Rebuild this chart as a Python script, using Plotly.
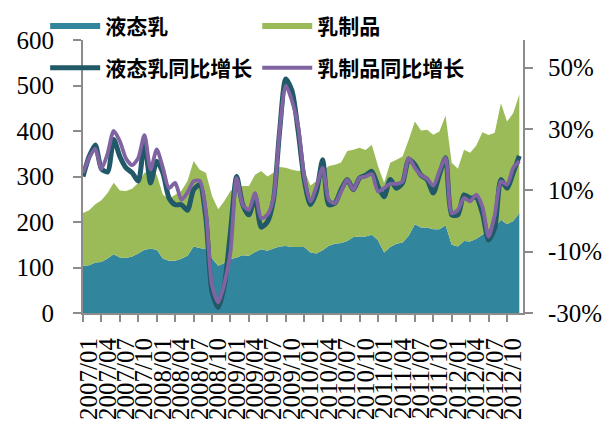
import plotly.graph_objects as go

# ---- data ----
months = [f"{y}/{m:02d}" for y in range(2007, 2013) for m in range(1, 13)]
tick_labels = months[::3]

liquid_milk = [104, 105, 111, 112, 120, 129, 122, 121, 124, 131, 139, 141,
               139, 120, 115, 115, 119, 126, 146, 143, 140, 120, 104, 110,
               118, 122, 127, 126, 134, 140, 137, 142, 146, 147, 145, 145,
               145, 133, 131, 138, 148, 152, 154, 158, 167, 168, 168, 172,
               160, 133, 145, 152, 155, 170, 195, 188, 188, 184, 184, 193,
               150, 146, 158, 157, 163, 172, 184, 188, 205, 195, 202, 220]

dairy_products = [116, 121, 128, 136, 144, 157, 147, 147, 149, 155, 169, 171,
                  165, 140, 136, 145, 149, 164, 188, 172, 168, 137, 124, 136,
                  150, 153, 152, 153, 170, 172, 163, 166, 175, 172, 170, 167,
                  170, 147, 159, 173, 175, 174, 177, 198, 192, 195, 190, 198,
                  163, 153, 185, 185, 189, 211, 226, 213, 215, 208, 215, 241,
                  180, 171, 201, 195, 205, 225, 207, 208, 256, 226, 237, 260]

liquid_yoy = [14.5, 21.0, 24.8, 17.0, 16.0, 26.6, 21.0, 17.3, 15.7, 13.0, 26.0, 12.4,
              19.5, 15.7, 7.5, 5.3, 5.3, 3.5, 10.2, 11.8, 0.9, -23.2, -28.2, -21.0,
              -3.5, 14.5, 5.3, 2.0, 7.9, -2.0, -0.3, 6.9, 29.4, 46.3, 42.5, 29.5,
              13.5, 5.3, 9.6, 20.0, 5.3, 5.8, 10.2, 13.5, 10.2, 14.0, 14.9, 16.2,
              11.3, 7.9, 13.5, 10.7, 12.4, 20.0, 18.4, 14.9, 13.5, 9.1, 15.1, 20.6,
              2.0, 2.0, 8.5, 7.5, 7.7, 2.5, -6.2, -2.3, 13.5, 10.7, 15.7, 21.2]

dairy_yoy = [15.7, 20.6, 23.5, 17.0, 22.0, 29.4, 26.0, 20.4, 18.2, 20.6, 28.0, 16.8,
             23.3, 17.3, 10.7, 12.4, 6.9, 9.3, 12.9, 13.1, 3.1, -21.0, -26.5, -20.5,
             -10.1, 14.0, 5.3, 3.6, 9.1, 0.9, 2.0, 7.5, 29.4, 44.1, 39.2, 31.0,
             14.5, 6.4, 11.3, 17.3, 6.9, 5.8, 9.6, 13.5, 10.2, 14.0, 14.5, 15.3,
             9.6, 10.7, 12.1, 12.1, 12.9, 20.6, 17.3, 14.9, 13.8, 11.5, 16.2, 20.6,
             2.5, 3.6, 7.5, 6.4, 8.6, 4.7, -5.1, 2.0, 12.9, 11.8, 17.3, 19.5]

right_ticks = [-30, -10, 10, 30, 50]
right_tick_text = ["-30%", "-10%", "10%", "30%", "50%"]
left_ticks = [0, 100, 200, 300, 400, 500, 600]

# ---- styles ----
TEAL = "#31859C"
GREEN = "#9BBB59"
DARK = "#215968"
PURPLE = "#8064A2"
AXIS = "#8c8c8c"
SERIF = "Times New Roman, Liberation Serif, Tinos, serif"
TICKFONT = dict(family=SERIF, size=25, color="black")
LEGFONT = dict(family="Noto Sans CJK SC", size=21, color="black", weight="bold")

fig = go.Figure()
fig.add_trace(go.Scatter(x=months, y=liquid_milk, name="液态乳", stackgroup="one",
                         mode="none", fillcolor=TEAL, legend="legend", showlegend=True))
fig.add_trace(go.Scatter(x=months, y=dairy_products, name="乳制品", stackgroup="one",
                         mode="none", fillcolor=GREEN, legend="legend2", showlegend=True))
fig.add_trace(go.Scatter(x=months, y=liquid_yoy, name="液态乳同比增长", yaxis="y2",
                         mode="lines", line=dict(color=DARK, width=5, shape="spline", smoothing=0.7),
                         legend="legend3", showlegend=True))
fig.add_trace(go.Scatter(x=months, y=dairy_yoy, name="乳制品同比增长", yaxis="y2",
                         mode="lines", line=dict(color=PURPLE, width=3.8, shape="spline", smoothing=0.7),
                         legend="legend4", showlegend=True))


def leg(x, y):
    return dict(orientation="h", x=x, y=y, xanchor="left", yanchor="middle",
                font=LEGFONT, bgcolor="rgba(0,0,0,0)", itemwidth=50)


# page body has an 8px margin, so the figure is 8px smaller than the window
fig.update_layout(
    width=607, height=413,
    showlegend=True,
    margin=dict(l=75, r=92, t=32, b=108, autoexpand=False),
    paper_bgcolor="white", plot_bgcolor="white",
    xaxis=dict(type="category", range=[0, 71.6], tickmode="array", tickvals=tick_labels,
               ticktext=tick_labels, tickangle=-90, ticklabelshift=6, ticklabelstandoff=6,
               ticks="outside", ticklen=7, tickcolor=AXIS, tickwidth=1.5,
               showline=True, linecolor=AXIS, linewidth=2, showgrid=False, zeroline=False,
               tickfont=TICKFONT, automargin=False),
    yaxis=dict(range=[0, 600], tickvals=left_ticks, ticks="outside", ticklen=8,
               tickcolor=AXIS, tickwidth=1.5, showline=True, linecolor=AXIS, linewidth=2,
               showgrid=False, zeroline=False, tickfont=TICKFONT, ticklabelstandoff=14,
               automargin=False),
    yaxis2=dict(range=[-30, 59], overlaying="y", side="right", tickmode="array",
                tickvals=right_ticks, ticktext=right_tick_text, ticks="outside", ticklen=8,
                tickcolor=AXIS, tickwidth=1.5, showline=True, linecolor=AXIS, linewidth=2,
                showgrid=False, zeroline=False, tickfont=TICKFONT, ticklabelstandoff=10,
                automargin=False),
    legend=leg(-0.086, 1.05),
    legend2=leg(0.396, 1.05),
    legend3=leg(-0.086, 0.897),
    legend4=leg(0.396, 0.897),
)

fig.write_html("out.html")
